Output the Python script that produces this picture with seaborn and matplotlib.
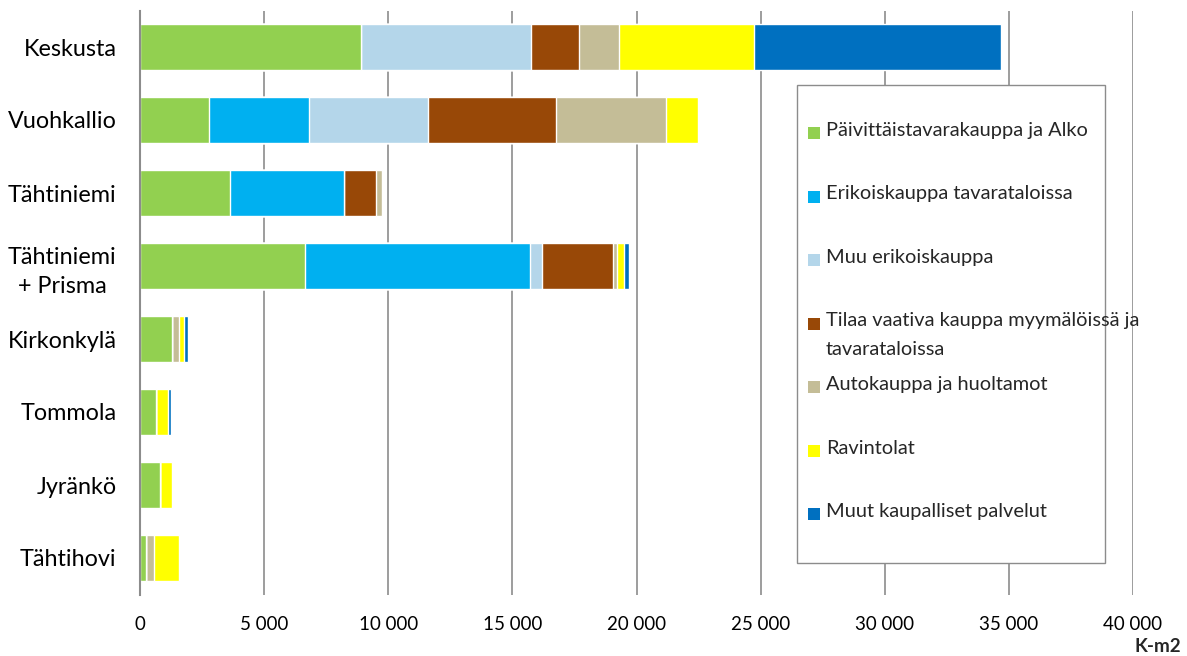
import numpy as np
import pandas as pd
import matplotlib
matplotlib.use("Agg")
import matplotlib.pyplot as plt
import seaborn as sns
from matplotlib.patches import Rectangle
from matplotlib.ticker import FuncFormatter, MultipleLocator

categories = ["Keskusta", "Vuohkallio", "Tähtiniemi", "Tähtiniemi\n+ Prisma",
              "Kirkonkylä", "Tommola", "Jyränkö", "Tähtihovi"]

series_names = [
    "Päivittäistavarakauppa ja Alko",
    "Erikoiskauppa tavarataloissa",
    "Muu erikoiskauppa",
    "Tilaa vaativa kauppa myymälöissä ja\ntavarataloissa",
    "Autokauppa ja huoltamot",
    "Ravintolat",
    "Muut kaupalliset palvelut",
]

paivittaistavara = [8900, 2780, 3620, 6630, 1290, 630, 790, 240]
erikois_tavaratalo = [0, 4030, 4580, 9070, 0, 0, 0, 0]
muu_erikois = [6850, 4780, 0, 510, 0, 0, 0, 0]
tilaa_vaativa = [1930, 5170, 1300, 2830, 0, 0, 0, 0]
autokauppa = [1610, 4420, 230, 160, 270, 0, 0, 320]
ravintolat = [5440, 1300, 0, 280, 215, 500, 480, 1000]
muut_palvelut = [9950, 0, 0, 215, 175, 110, 0, 0]

colors = ["#92D050", "#00B0F0", "#B4D6EA", "#984807", "#C4BD97", "#FFFF00", "#0070C0"]

series_values = [paivittaistavara, erikois_tavaratalo, muu_erikois, tilaa_vaativa,
                 autokauppa, ravintolat, muut_palvelut]

sns.set_theme(style="white")
plt.rcParams["font.family"] = ["Lato", "DejaVu Sans"]

W, H = 1187, 656
fig = plt.figure(figsize=(W / 100, H / 100), dpi=100)
ax = fig.add_axes([140 / W, 1 - 594.5 / H, 993 / W, 584 / H])


def fx(px):
    return px / W


def fy(py):
    return 1 - py / H


# Cumulative totals, drawn from the outermost segment inwards so each layer stacks
cum = np.cumsum(np.array(series_values), axis=0)
for i in range(len(series_names) - 1, -1, -1):
    df = pd.DataFrame({"cat": categories, "val": cum[i]})
    sns.barplot(data=df, x="val", y="cat", orient="h", color=colors[i],
                saturation=1, width=0.64, ax=ax)

ax.set_xlim(0, 40000)
ax.set_ylim(7.5, -0.5)
ax.xaxis.set_major_locator(MultipleLocator(5000))
ax.xaxis.set_major_formatter(FuncFormatter(lambda v, p: f"{int(v):,}".replace(",", " ")))
ax.grid(axis="x", color="#8C8C8C", linewidth=1.2, zorder=0)
ax.set_axisbelow(True)
for s in ["top", "right", "bottom"]:
    ax.spines[s].set_visible(False)
ax.spines["left"].set_color("#8C8C8C")
ax.spines["left"].set_linewidth(1.5)
ax.set_xlabel("")
ax.set_ylabel("")
ax.tick_params(axis="x", labelsize=13.5, length=0, pad=15.5, colors="black")
ax.tick_params(axis="y", labelsize=16.8, length=0, pad=17, colors="black")
for lab in ax.get_yticklabels():
    lab.set_multialignment("center")
    lab.set_linespacing(1.45)

fig.text(fx(1181), fy(646), "K-m2", ha="right", va="center",
         fontsize=13.5, fontweight="bold")

# Legend box with evenly spaced entries; multi-line labels hang below their slot
fig.patches.append(Rectangle((fx(797), fy(563)), fx(1105) - fx(797), fy(85) - fy(563),
                             transform=fig.transFigure, facecolor="white",
                             edgecolor="#8C8C8C", linewidth=1.0, zorder=5))
slot0, step = 133, 63.5
for k, (name, col) in enumerate(zip(series_names, colors)):
    yc = slot0 + k * step
    fig.patches.append(Rectangle((fx(808), fy(yc + 6)), fx(820) - fx(808), fy(yc - 6) - fy(yc + 6),
                                 transform=fig.transFigure, facecolor=col,
                                 edgecolor="none", zorder=6))
    fig.text(fx(826), fy(yc - 11), name, ha="left", va="top", fontsize=14.4,
             linespacing=1.8, zorder=7)

fig.savefig("out.png", dpi=100, facecolor="white")
